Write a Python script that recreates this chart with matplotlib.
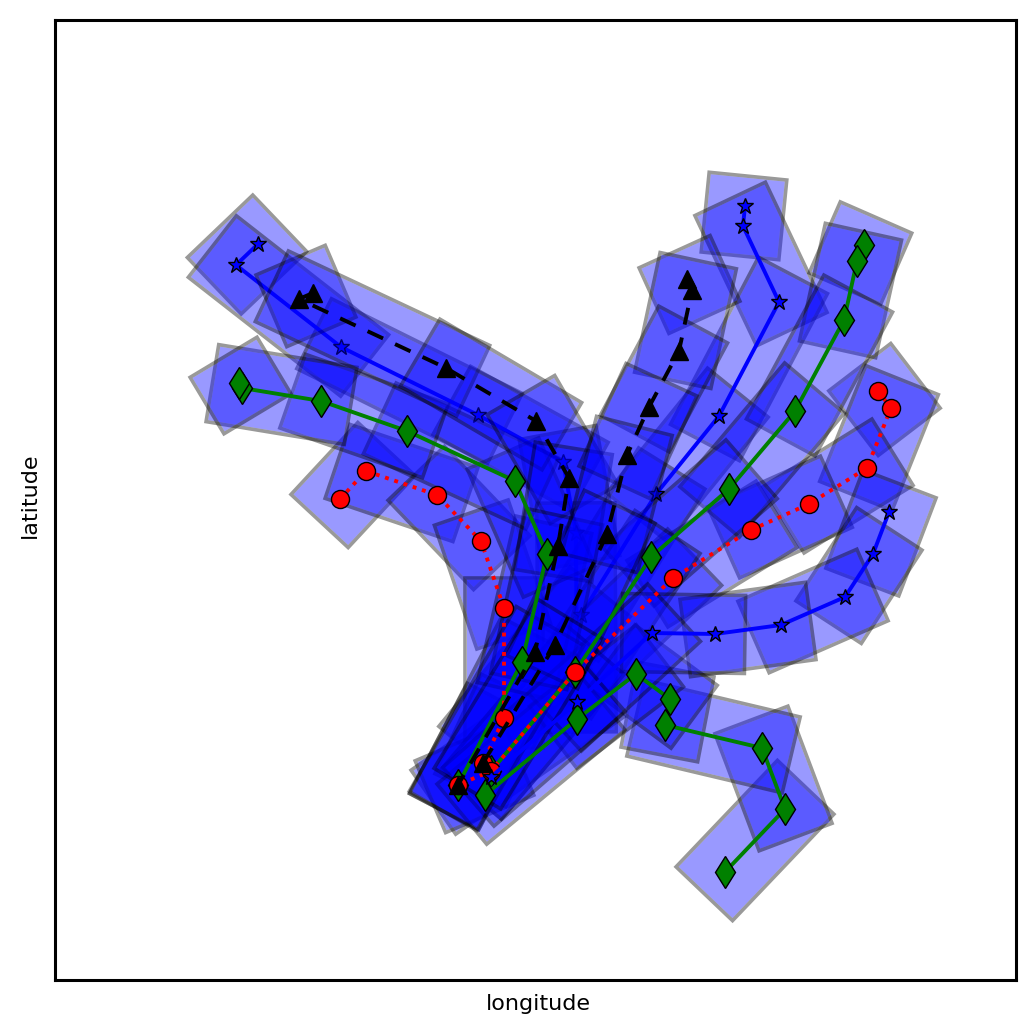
import numpy as np
import matplotlib
matplotlib.use('Agg')
import matplotlib.pyplot as plt
from matplotlib.patches import Polygon

# positions, longitude / latitude in image units
star1_x = [258, 236, 341, 478, 563, 576, 577, 458]
star1_y = [244, 265, 347, 415, 462, 533, 702, 785]
star2_x = [745, 743, 779, 719, 656, 581, 488, 458]
star2_y = [206, 226, 302, 416, 494, 615, 728, 785]
black1_x = [313, 299, 446, 536, 569, 558, 535, 458]
black1_y = [293, 299, 368, 421, 478, 546, 652, 785]
black2_x = [687, 692, 679, 649, 627, 607, 555, 483]
black2_y = [279, 290, 351, 407, 455, 534, 645, 763]
green1_x = [864, 857, 844, 795, 729, 651, 575, 491]
green1_y = [245, 261, 320, 411, 489, 557, 672, 771]
green2_x = [458, 522, 547, 515, 407, 321, 242, 239]
green2_y = [785, 662, 554, 481, 431, 401, 388, 383]
green3_x = [725, 785, 762, 665, 670, 636, 577, 485]
green3_y = [872, 809, 748, 725, 699, 674, 719, 795]
red1_x = [878, 891, 867, 809, 751, 673, 575, 491, 458]
red1_y = [391, 408, 468, 504, 530, 578, 672, 771, 785]
red2_x = [340, 366, 437, 481, 504, 504, 483]
red2_y = [499, 471, 495, 541, 608, 718, 763]
star3_x = [889, 873, 845, 781, 715, 652, 577, 491]
star3_y = [512, 554, 597, 625, 634, 633, 702, 777]

half_width = 39
cap = 30
inset = 1.8


def box(p0, p1, w, c):
    d = (p1 - p0) / np.linalg.norm(p1 - p0)
    n = np.array([-d[1], d[0]])
    return [p0 - c * d + w * n, p1 + c * d + w * n, p1 + c * d - w * n, p0 - c * d - w * n]


def add_boxes(ax, xs, ys, z):
    for i in range(len(xs) - 1):
        p0 = np.array([xs[i], ys[i]], dtype=float)
        p1 = np.array([xs[i + 1], ys[i + 1]], dtype=float)
        # fill stops under the outline so the outline stays grey
        ax.add_patch(Polygon(box(p0, p1, half_width - inset, cap - inset), closed=True,
                             facecolor='b', edgecolor='none', alpha=0.4, zorder=z))
        ax.add_patch(Polygon(box(p0, p1, half_width, cap), closed=True, facecolor='none',
                             edgecolor='k', alpha=0.4, lw=2.6, zorder=z))


def add_track(ax, xs, ys, z, line_z, color, marker, ms, **kw):
    add_boxes(ax, xs, ys, z)
    ax.plot(xs, ys, color=color, lw=2.8, marker=marker, ms=ms, mfc=color, mec='k',
            mew=1.0, zorder=line_z, **kw)


fig = plt.figure(figsize=(10.36, 10.36), dpi=100)
ax = fig.add_axes([55 / 1036, 1 - 980 / 1036, 961 / 1036, 960 / 1036])

add_track(ax, star1_x, star1_y, 1, 1.5, 'b', '*', 12)
add_track(ax, star2_x, star2_y, 2, 2.5, 'b', '*', 12)
add_track(ax, red2_x, red2_y, 3, 13, 'r', 'o', 13, dashes=(1.0, 1.5))
add_track(ax, red1_x, red1_y, 4, 14, 'r', 'o', 13, dashes=(1.0, 1.5))
add_track(ax, green1_x, green1_y, 5, 11, 'g', 'd', 16.5)
add_track(ax, green2_x, green2_y, 6, 11.5, 'g', 'd', 16.5)
add_track(ax, green3_x, green3_y, 7, 12, 'g', 'd', 16.5)
add_track(ax, star3_x, star3_y, 8, 15, 'b', '*', 12)
add_track(ax, black1_x, black1_y, 9, 16, 'k', '^', 13, dashes=(4.4, 3.4))
add_track(ax, black2_x, black2_y, 10, 16.5, 'k', '^', 13, dashes=(4.4, 3.4))

ax.set_xlim(55, 1016)
ax.set_ylim(980, 20)
ax.set_xticks([])
ax.set_yticks([])
ax.set_xlabel('longitude', fontsize=16)
ax.set_ylabel('latitude', fontsize=16)
ax.xaxis.set_label_coords(0.503, -0.015, transform=ax.transAxes)
ax.yaxis.set_label_coords(-0.0155, 0.5045, transform=ax.transAxes)
for s in ax.spines.values():
    s.set_linewidth(2.2)
    s.set_zorder(20)

plt.savefig('out.png', dpi=100)
